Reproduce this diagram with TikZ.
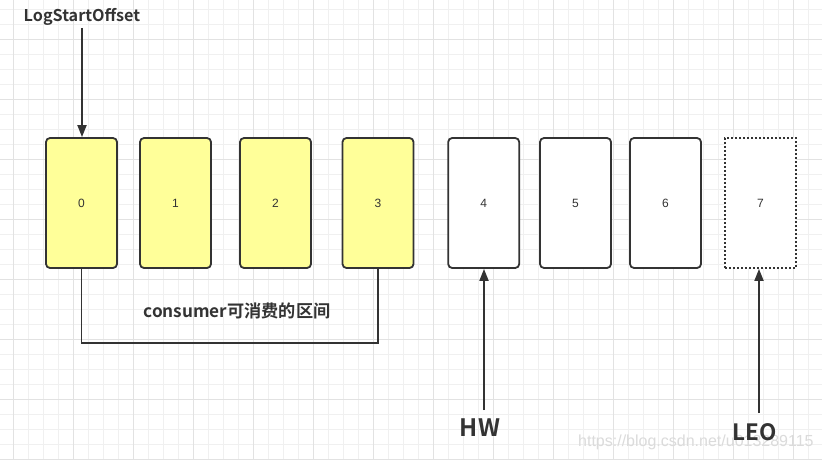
\documentclass[tikz,border=0pt]{standalone}
\usepackage{fontspec}
\setmainfont{Liberation Sans}
\newfontfamily\cjkb{Noto Sans CJK SC Bold}
\usetikzlibrary{arrows.meta}
\definecolor{ink}{HTML}{333333}
\definecolor{cellfill}{HTML}{FFFF99}
\definecolor{gridminor}{HTML}{F0F0F0}
\definecolor{gridmajor}{HTML}{E2E2E2}
\tikzset{
  cell/.style={draw=ink, line width=1.8pt, rounded corners=4pt, minimum width=71pt, minimum height=130pt, inner sep=0pt, font=\fontsize{12}{12}\selectfont, text=ink},
  used/.style={cell, fill=cellfill},
  free/.style={cell, fill=white},
  future/.style={cell, fill=white, line width=1.8pt, dash pattern=on 1.8pt off 2.2pt, rounded corners=0pt},
  pointer/.style={draw=ink, line width=1.8pt, -{Triangle[length=12pt,width=9pt]}},
  bracket/.style={draw=ink, line width=1.8pt},
  lbl/.style={text=ink, inner sep=0pt, font=\cjkb},
}
\begin{document}
\begin{tikzpicture}[x=1pt,y=-1pt]
\useasboundingbox (0,0) rectangle (822,460);
\fill[white] (0,0) rectangle (822,460);
% grid
\foreach \i in {0,...,54} {\draw[gridminor, line width=0.8pt] ({13.3+15*\i},0) -- ({13.3+15*\i},460);}
\foreach \i in {0,...,30} {\draw[gridminor, line width=0.8pt] (0,{9.3+15*\i}) -- (822,{9.3+15*\i});}
\foreach \i in {0,...,13} {\draw[gridmajor, line width=0.8pt] ({13.3+60*\i},0) -- ({13.3+60*\i},460);}
\foreach \i in {-1,...,7} {\draw[gridmajor, line width=0.8pt] (0,{39.3+60*\i}) -- (822,{39.3+60*\i});}
% cells
\node[used] (c0) at (81.5,203) {0};
\node[used] (c1) at (175.5,203) {1};
\node[used] (c2) at (275.5,203) {2};
\node[used] (c3) at (378,203) {3};
\node[free] (c4) at (483.7,203) {4};
\node[free] (c5) at (575.5,203) {5};
\node[free] (c6) at (665.5,203) {6};
\node[future] (c7) at (760.5,203) {7};
% watermark
\node[text=black!14, inner sep=0pt, font=\fontsize{16}{16}\selectfont, anchor=west] (wm) at (578,442) {https://blog.csdn.net/u013289115};
% labels
\node[lbl, font=\cjkb\fontsize{16.2}{16.2}\selectfont] (lso) at (82,17) {LogStartOffset};
\node[lbl, font=\cjkb\fontsize{17.2}{17.2}\selectfont] (cons) at (237,311) {consumer可消费的区间};
\node[lbl, font=\cjkb\fontsize{24}{24}\selectfont] (hw) at (480,428) {HW};
\node[lbl, font=\cjkb\fontsize{22.5}{22.5}\selectfont] (leo) at (755,432) {LEO};
% arrows
\coordinate (lsoA) at (82,28);
\coordinate (hwA) at (484,410);
\coordinate (leoA) at (759,413);
\draw[pointer] (lsoA) -- (lsoA |- c0.north);
\draw[pointer] (hwA) -- (hwA |- c4.south);
\draw[pointer] (leoA) -- (leoA |- c7.south);
% consumer range bracket
\draw[bracket] (c0.south) -- ++(0,74) -| (c3.south);
\end{tikzpicture}
\end{document}
